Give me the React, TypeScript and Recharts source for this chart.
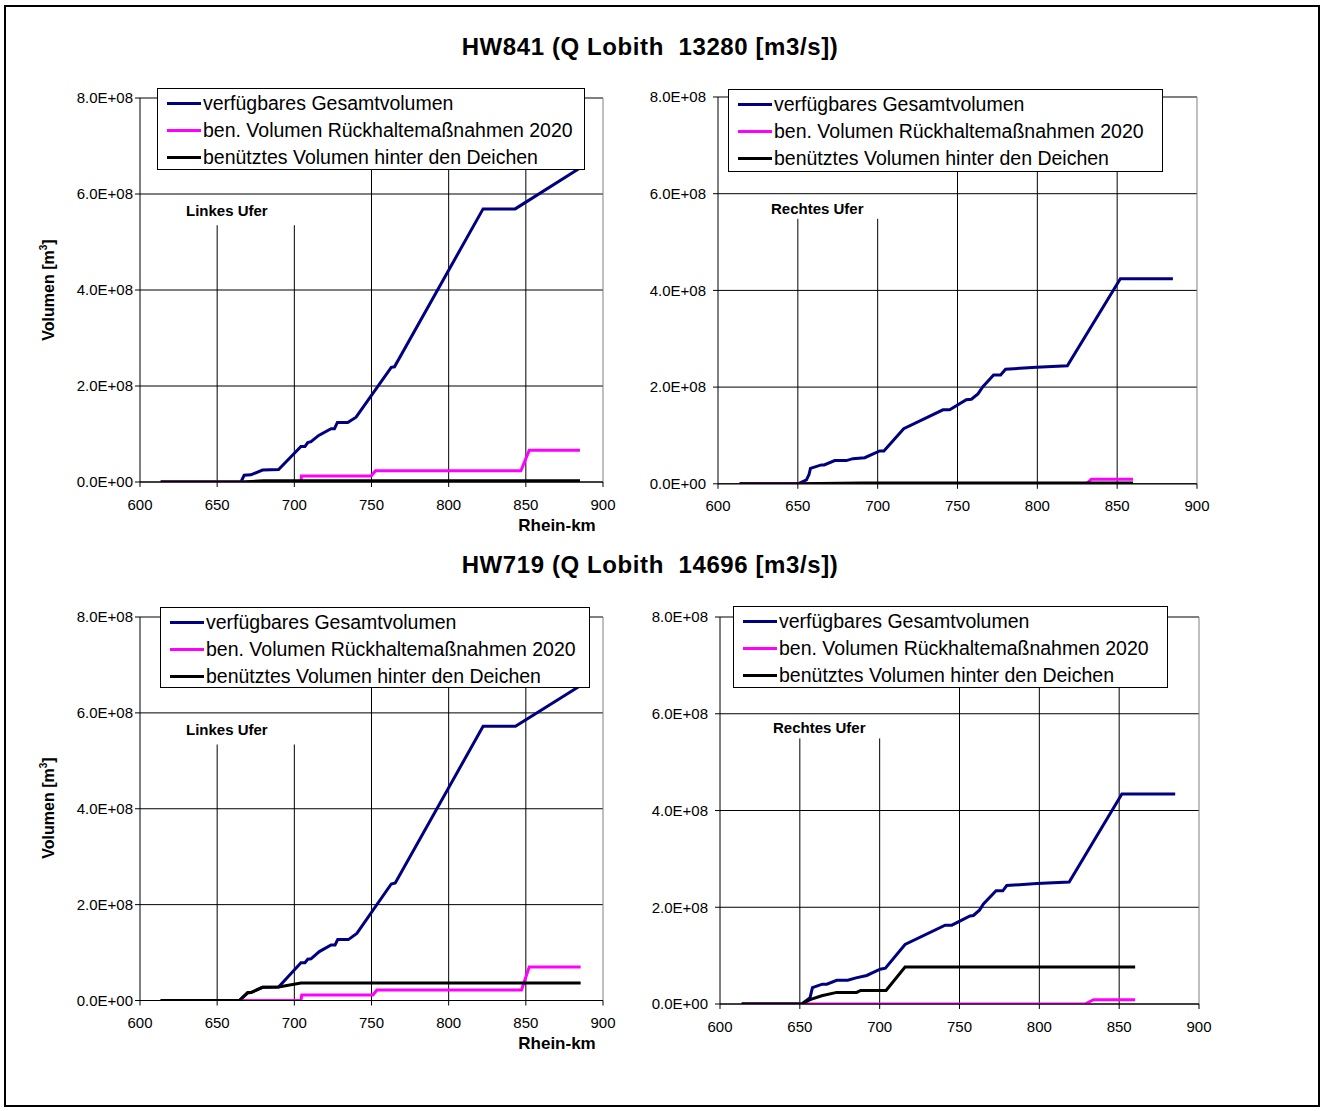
import React from 'react';
import { CartesianGrid, Legend, Line, LineChart, ReferenceLine, XAxis, YAxis } from 'recharts';

type Pt = [number, number];

// Rhein-km, Volumen [m3]
const hw841LinksGesamt: Pt[] = [
    [613.4, 0], [665.4, 0], [667.5, 14e6], [671.9, 15e6], [679.4, 25e6], [689.8, 26e6],
    [704.3, 74e6], [706.9, 74e6], [708.7, 82e6], [710.8, 84e6], [715.8, 97e6], [723.8, 111e6],
    [726.0, 111e6], [727.9, 124e6], [734.6, 124e6], [740.0, 135e6], [762.8, 239e6], [764.9, 240e6],
    [822.3, 569e6], [843.1, 569e6], [885.1, 654e6],
];
const hw841LinksRueckhalt: Pt[] = [
    [613.4, 0], [704.3, 0], [704.6, 12.5e6], [749.8, 12.5e6], [752.6, 23.5e6], [846.8, 23.5e6],
    [852.2, 66e6], [885.1, 66e6],
];
const hw841LinksDeiche: Pt[] = [[613.4, 0], [665.4, 0], [680.0, 2.5e6], [885.1, 2.5e6]];

const hw841RechtsGesamt: Pt[] = [
    [613.6, 0], [650.1, 0], [655.4, 8e6], [657.0, 19e6], [657.9, 32e6], [664.7, 39e6], [666.5, 39e6],
    [673.1, 48e6], [680.4, 48e6], [684.5, 52e6], [691.9, 54e6], [701.3, 68e6], [703.9, 68e6],
    [716.3, 114e6], [740.9, 153e6], [745.1, 153e6], [755.5, 174e6], [758.7, 175e6], [762.8, 186e6],
    [765.9, 201e6], [772.6, 225e6], [777.0, 225e6], [780.1, 237e6], [799.4, 241e6], [818.8, 244e6],
    [852.0, 424e6], [884.9, 424e6],
];
const hw841RechtsRueckhalt: Pt[] = [[613.6, 0], [830.7, 0], [833.8, 9.5e6], [859.9, 9.5e6]];
const hw841RechtsDeiche: Pt[] = [[613.6, 0], [650.0, 0], [690.0, 1.5e6], [859.9, 1.5e6]];

const hw719LinksGesamt: Pt[] = [
    [613.4, 0], [664.4, 0], [669.7, 16e6], [671.9, 16.5e6], [679.4, 27.5e6], [689.8, 28e6],
    [704.3, 79e6], [706.9, 79e6], [708.7, 86e6], [710.8, 87e6], [716.2, 102e6], [723.8, 116e6],
    [726.4, 116e6], [728.1, 127e6], [735.0, 127e6], [740.5, 140e6], [762.8, 243e6], [765.4, 245e6],
    [822.3, 572e6], [843.3, 572e6], [885.0, 656e6],
];
const hw719LinksRueckhalt: Pt[] = [
    [613.4, 0], [704.3, 0], [704.8, 11.5e6], [750.9, 11.5e6], [753.5, 22e6], [847.2, 22e6],
    [852.2, 70e6], [885.5, 70e6],
];
const hw719LinksDeiche: Pt[] = [
    [613.4, 0], [664.4, 0], [669.7, 16e6], [671.9, 16.5e6], [679.4, 27.5e6], [689.8, 28e6],
    [704.3, 36.5e6], [885.5, 36.5e6],
];

const hw719RechtsGesamt: Pt[] = [
    [613.6, 0], [651.2, 0], [656.4, 13e6], [657.9, 34e6], [664.1, 41e6], [666.9, 41e6], [673.1, 49e6],
    [680.0, 49e6], [685.2, 54e6], [691.9, 59e6], [700.3, 72e6], [703.6, 74e6], [715.9, 123e6],
    [741.0, 163e6], [745.2, 163e6], [756.6, 182e6], [758.7, 183e6], [762.5, 194e6], [765.0, 207e6],
    [772.9, 234e6], [777.1, 234e6], [779.6, 245e6], [798.4, 249e6], [818.7, 252e6], [851.7, 434e6],
    [885.1, 434e6],
];
const hw719RechtsRueckhalt: Pt[] = [[613.6, 0], [828.7, 0], [833.9, 9e6], [860.0, 9e6]];
const hw719RechtsDeiche: Pt[] = [
    [613.6, 0], [651.2, 0], [656.4, 9e6], [663.7, 17e6], [673.1, 24e6], [685.6, 24e6], [688.1, 28e6],
    [704.0, 28e6], [715.9, 76.5e6], [860.0, 76.5e6],
];

const seriesNames = [
    'verfügbares Gesamtvolumen',
    'ben. Volumen Rückhaltemaßnahmen 2020',
    'benütztes Volumen hinter den Deichen',
];
const seriesColors = ['#000080', '#ff00ff', '#000000'];
const xTicks = [600, 650, 700, 750, 800, 850, 900];
const yTicks = [0, 2e8, 4e8, 6e8, 8e8];

const FONT = '"Liberation Sans", Arial, sans-serif';

const sci = (v: number) => {
    if (v === 0) return '0.0E+00';
    const e = Math.floor(Math.log10(v) + 1e-9);
    return `${(v / 10 ** e).toFixed(1)}E+${String(e).padStart(2, '0')}`;
};

const toRows = (pts: Pt[]) => pts.map(([km, v]) => ({ km, v }));

interface Box { l: number; t: number; r: number; b: number }

interface PanelProps {
    plot: Box;
    legend: Box;
    series: Pt[][];
    gapTop: number;
    yTickMargin: number;
}

const YW = 130;
const XH = 40;
const MT = 10;
const MR = 30;

function LegendBox({ payload, w, h }: any) {
    const items = [...(payload || [])].sort(
        (a: any, b: any) => seriesNames.indexOf(a.value) - seriesNames.indexOf(b.value),
    );
    return (
        <div
            style={{
                width: w,
                height: h,
                boxSizing: 'border-box',
                border: '1px solid #000',
                background: '#fff',
                paddingTop: 1,
                fontFamily: FONT,
                fontSize: 19.5,
                color: '#000',
            }}
        >
            {items.map((p: any) => (
                <div key={p.value} style={{ display: 'flex', alignItems: 'center', height: 27, whiteSpace: 'nowrap' }}>
                    <span style={{ display: 'inline-block', width: 34, height: 3, background: p.color, marginLeft: 9, marginRight: 2 }} />
                    <span>{p.value}</span>
                </div>
            ))}
        </div>
    );
}

function Panel({ plot, legend, series, gapTop, yTickMargin }: PanelProps) {
    const cl = plot.l - YW;
    const ct = plot.t - MT;
    const w = plot.r - cl + MR;
    const h = plot.b - ct + XH;
    const tick = { fill: '#000', fontSize: 15, fontFamily: FONT };
    return (
        <div style={{ position: 'absolute', left: cl, top: ct }}>
            <LineChart width={w} height={h} margin={{ top: MT, right: MR, left: 0, bottom: 0 }}>
                <CartesianGrid vertical={false} stroke="#000" />
                <XAxis
                    type="number"
                    dataKey="km"
                    domain={[600, 900]}
                    ticks={xTicks}
                    interval={0}
                    height={XH}
                    tickSize={5}
                    tickMargin={12}
                    axisLine={{ stroke: '#000' }}
                    tickLine={{ stroke: '#000' }}
                    tick={tick}
                    allowDataOverflow
                />
                <YAxis
                    type="number"
                    domain={[0, 8e8]}
                    ticks={yTicks}
                    interval={0}
                    width={YW}
                    tickSize={5}
                    tickMargin={yTickMargin}
                    tickFormatter={sci}
                    axisLine={{ stroke: '#000' }}
                    tickLine={{ stroke: '#000' }}
                    tick={tick}
                    allowDataOverflow
                />
                <ReferenceLine y={8e8} stroke="#808080" />
                <ReferenceLine x={900} stroke="#808080" />
                {[650, 700].map((x) => (
                    <ReferenceLine key={x} segment={[{ x, y: 0 }, { x, y: gapTop }]} stroke="#000" />
                ))}
                {[750, 800, 850].map((x) => (
                    <ReferenceLine key={x} x={x} stroke="#000" />
                ))}
                {series.map((pts, i) => (
                    <Line
                        key={seriesNames[i]}
                        data={toRows(pts)}
                        dataKey="v"
                        name={seriesNames[i]}
                        type="linear"
                        stroke={seriesColors[i]}
                        strokeWidth={3}
                        dot={false}
                        activeDot={false}
                        isAnimationActive={false}
                    />
                ))}
                <Legend
                    layout="horizontal"
                    verticalAlign="middle"
                    align="center"
                    wrapperStyle={{
                        left: legend.l - cl,
                        top: legend.t - ct,
                        width: legend.r - legend.l,
                        height: legend.b - legend.t,
                    }}
                    content={(props: any) => (
                        <LegendBox payload={props.payload} w={legend.r - legend.l} h={legend.b - legend.t} />
                    )}
                />
            </LineChart>
        </div>
    );
}

const abs = (extra: React.CSSProperties): React.CSSProperties => ({
    position: 'absolute',
    fontFamily: FONT,
    color: '#000',
    whiteSpace: 'pre',
    ...extra,
});

function Title({ text, y }: { text: string; y: number }) {
    return (
        <div style={abs({ left: 650, top: y, transform: 'translate(-50%, -50%)', fontSize: 24, fontWeight: 'bold', letterSpacing: 0.6 })}>
            {text}
        </div>
    );
}

function BankLabel({ text, x, y }: { text: string; x: number; y: number }) {
    return <div style={abs({ left: x, top: y, transform: 'translateY(-50%)', fontSize: 15, fontWeight: 'bold' })}>{text}</div>;
}

function YLabel({ y }: { y: number }) {
    return (
        <div style={abs({ left: 48, top: y, transform: 'translate(-50%, -50%) rotate(-90deg)', fontSize: 16, fontWeight: 'bold' })}>
            Volumen [m<sup style={{ fontSize: 10 }}>3</sup>]
        </div>
    );
}

function XLabel({ y }: { y: number }) {
    return (
        <div style={abs({ left: 557, top: y, transform: 'translate(-50%, -50%)', fontSize: 17, fontWeight: 'bold' })}>
            Rhein-km
        </div>
    );
}

export default function App() {
    return (
        <div style={{ position: 'absolute', left: 0, top: 0, width: 1324, height: 1111, background: '#fff' }}>
            <div style={{ position: 'absolute', left: 4, top: 5, width: 1316, height: 1102, border: '2px solid #000', boxSizing: 'border-box' }} />

            <Title text="HW841 (Q Lobith  13280 [m3/s])" y={47} />
            <Title text="HW719 (Q Lobith  14696 [m3/s])" y={565} />

            <Panel
                plot={{ l: 140.3, t: 98, r: 603.3, b: 482 }}
                legend={{ l: 157, t: 88, r: 585, b: 170 }}
                series={[hw841LinksGesamt, hw841LinksRueckhalt, hw841LinksDeiche]}
                gapTop={5.35e8}
                yTickMargin={2}
            />
            <Panel
                plot={{ l: 718.3, t: 97.2, r: 1197.3, b: 484 }}
                legend={{ l: 728, t: 89, r: 1163, b: 172 }}
                series={[hw841RechtsGesamt, hw841RechtsRueckhalt, hw841RechtsDeiche]}
                gapTop={5.48e8}
                yTickMargin={7}
            />
            <Panel
                plot={{ l: 140.3, t: 617, r: 603.3, b: 1000.5 }}
                legend={{ l: 160, t: 607, r: 590, b: 688 }}
                series={[hw719LinksGesamt, hw719LinksRueckhalt, hw719LinksDeiche]}
                gapTop={5.34e8}
                yTickMargin={2}
            />
            <Panel
                plot={{ l: 720, t: 616.7, r: 1199, b: 1003.7 }}
                legend={{ l: 733, t: 606, r: 1168, b: 688 }}
                series={[hw719RechtsGesamt, hw719RechtsRueckhalt, hw719RechtsDeiche]}
                gapTop={5.49e8}
                yTickMargin={7}
            />

            <BankLabel text="Linkes Ufer" x={186} y={210} />
            <BankLabel text="Rechtes Ufer" x={771} y={208} />
            <BankLabel text="Linkes Ufer" x={186} y={729} />
            <BankLabel text="Rechtes Ufer" x={773} y={727} />

            <YLabel y={290} />
            <YLabel y={808} />
            <XLabel y={526} />
            <XLabel y={1044} />
        </div>
    );
}
